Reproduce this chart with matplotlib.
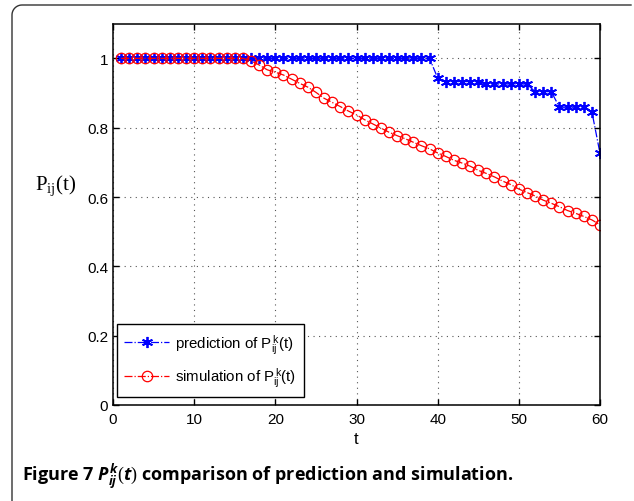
import numpy as np
import matplotlib
matplotlib.use("Agg")
import matplotlib.pyplot as plt
from matplotlib.lines import Line2D

plt.rcParams['mathtext.fontset'] = 'custom'
plt.rcParams['mathtext.rm'] = 'Liberation Serif'
plt.rcParams['mathtext.sf'] = 'Liberation Sans'
plt.rcParams['mathtext.it'] = 'Open Sans:italic:bold'
plt.rcParams['mathtext.bf'] = 'Open Sans:bold'

t = list(range(1, 61))
prediction = [1.0] * 39 + [0.943,
              0.933, 0.933, 0.933, 0.933, 0.933,
              0.926, 0.926, 0.926, 0.926, 0.926, 0.926,
              0.904, 0.904, 0.904,
              0.859, 0.859, 0.859, 0.859,
              0.846, 0.726]
simulation = [1.0] * 16 + [0.993, 0.981, 0.967, 0.960, 0.952, 0.940, 0.928,
              0.917, 0.902, 0.885, 0.873, 0.861, 0.848, 0.837, 0.823, 0.811,
              0.799, 0.787, 0.777, 0.768, 0.758, 0.748, 0.739, 0.727, 0.717,
              0.706, 0.698, 0.689, 0.677, 0.668, 0.658, 0.646, 0.636, 0.623,
              0.613, 0.603, 0.591, 0.582, 0.572, 0.561, 0.553, 0.544, 0.534,
              0.520]
xticks = [0, 10, 20, 30, 40, 50, 60]
yticks = [0, 0.2, 0.4, 0.6, 0.8, 1]
yticklabels = ['0', '0.2', '0.4', '0.6', '0.8', '1']

W, H = 634, 502
fig = plt.figure(figsize=(W / 100, H / 100), dpi=100)
ax = fig.add_axes([113 / W, (H - 406) / H, (600 - 113) / W, (406 - 24.7) / H])

ax.plot(t, prediction, linestyle='-.', color='#0000ff', marker=(6, 2, 0), markersize=8,
        markeredgewidth=1.3, linewidth=0.9, label=r'prediction of $\mathsf{P_{ij}^{\,k}(t)}$')
ax.plot(t, simulation, linestyle='-.', color='#ff0000', marker='o', markersize=7.5,
        markerfacecolor='none', markeredgewidth=0.9, linewidth=0.9,
        label=r'simulation of $\mathsf{P_{ij}^{\,k}(t)}$')

ax.set_xlim(0, 60)
ax.set_ylim(0, 1.1)
ax.set_xticks(xticks)
ax.set_yticks(yticks)
ax.set_yticklabels(yticklabels)
ax.tick_params(direction='in', length=4, top=True, right=True, labelsize=11,
               width=1)
ax.tick_params(axis='x', pad=5)
for lab in ax.get_xticklabels() + ax.get_yticklabels():
    lab.set_family('Liberation Sans')
ax.grid(True, linestyle=(0, (1, 4)), color='#555555', linewidth=0.8)
for s in ax.spines.values():
    s.set_linewidth(1.1)

ax.set_xlabel('t', fontsize=12, family='Liberation Sans', labelpad=4)
fig.text(35 / W, 1 - 186 / H, r'$\mathrm{P_{ij}(t)}$', fontsize=15,
         ha='left', va='center')

leg = ax.legend(loc='lower left', bbox_to_anchor=(0.0076, 0.0218), borderaxespad=0,
                fancybox=False, edgecolor='black', framealpha=1,
                prop={'family': 'Liberation Sans', 'size': 10.8},
                handlelength=3.0, handletextpad=0.4, labelspacing=0.65, borderpad=0.5)
leg.get_frame().set_linewidth(1.0)

fig.text(22 / W, 1 - 476 / H,
         r'Figure 7 $\mathit{P_{ij}^{k}(t)}$ comparison of prediction and simulation.',
         fontsize=13, family='Open Sans', weight='bold', ha='left', va='center')

# page frame with rounded top-left corner
r = 10
ang = np.linspace(np.pi, np.pi / 2, 12)
cx, cy = 12 + r, 6 + r
xs = [12] + list(cx + r * np.cos(ang)) + [631]
ys = [H] + list(cy - r * np.sin(ang)) + [6]
fig.add_artist(Line2D([x / W for x in xs], [1 - y / H for y in ys],
                      transform=fig.transFigure, color='#333333', linewidth=1.0))

fig.savefig('out.png', dpi=100)
